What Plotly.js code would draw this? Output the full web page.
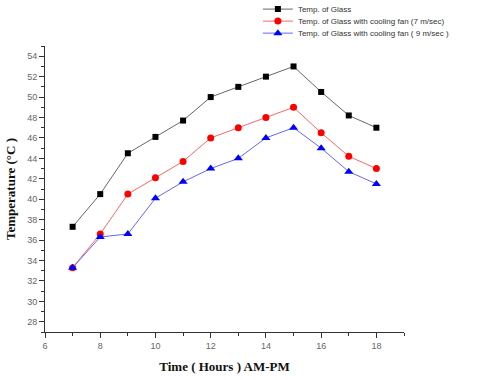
<!DOCTYPE html>
<html>
<head>
<meta charset="utf-8">
<script src="https://cdn.plot.ly/plotly-3.0.1.min.js"></script>
<style>
  html, body { margin: 0; padding: 0; background: #fff; }
  #chart { width: 480px; height: 380px; }
</style>
</head>
<body>
<div id="chart"></div>
<script>
const hours = [7, 8, 9, 10, 11, 12, 13, 14, 15, 16, 17, 18];
const tempGlass = [37.3, 40.5, 44.5, 46.1, 47.7, 50.0, 51.0, 52.0, 53.0, 50.5, 48.2, 47.0];
const tempFan7 = [33.3, 36.6, 40.5, 42.1, 43.7, 46.0, 47.0, 48.0, 49.0, 46.5, 44.2, 43.0];
const tempFan9 = [33.3, 36.3, 36.6, 40.1, 41.7, 43.0, 44.0, 46.0, 47.0, 45.0, 42.7, 41.5];
const seriesNames = ['Temp. of Glass', 'Temp. of Glass with cooling fan (7 m/sec)', 'Temp. of Glass with cooling fan ( 9 m/sec )'];

const data = [
    { x: hours, y: tempGlass, name: seriesNames[0], mode: 'lines+markers', legend: 'legend',
      line: { color: '#666666', width: 1 },
      marker: { symbol: 'square', size: 6, color: '#000000' } },
    { x: hours, y: tempFan7, name: seriesNames[1], mode: 'lines+markers', legend: 'legend2',
      line: { color: '#ff6666', width: 1 },
      marker: { symbol: 'circle', size: 7, color: '#ff0000' } },
    { x: hours, y: tempFan9, name: seriesNames[2], mode: 'lines+markers', legend: 'legend3',
      line: { color: '#6666ff', width: 1 },
      marker: { symbol: 'triangle-up', size: 8, color: '#0000ff' } }
];

const axisBase = {
    showgrid: false,
    zeroline: false,
    showline: true,
    linecolor: '#333',
    linewidth: 1,
    ticks: 'outside',
    ticklen: 5,
    tickcolor: '#333',
    tickfont: { family: 'Arial, Liberation Sans', size: 9, color: '#666' }
};

// one legend per series so rows can sit closer than plotly's default spacing
function legendAt(y) {
    return {
        x: 0.593, y: y, xanchor: 'left', yanchor: 'middle',
        font: { family: 'Arial, Liberation Sans', size: 8, color: '#333' },
        bgcolor: 'rgba(0,0,0,0)', borderwidth: 0
    };
}

const layout = {
    width: 480,
    height: 380,
    margin: { l: 45, r: 76, t: 46, b: 48, autoexpand: false },
    paper_bgcolor: '#fff',
    plot_bgcolor: '#fff',
    showlegend: true,
    legend: legendAt(1.129),
    legend2: legendAt(1.087),
    legend3: legendAt(1.045),
    xaxis: Object.assign({}, axisBase, {
        range: [6, 19],
        tick0: 6, dtick: 2,
        minor: { dtick: 1, ticks: 'outside', ticklen: 3, tickcolor: '#333' },
        title: { text: 'Time ( Hours ) AM-PM', standoff: 12,
                 font: { family: 'Times New Roman, Liberation Serif', size: 13, color: '#111', weight: 'bold' } }
    }),
    yaxis: Object.assign({}, axisBase, {
        range: [27, 55],
        tick0: 28, dtick: 2,
        minor: { dtick: 1, ticks: 'outside', ticklen: 3, tickcolor: '#333' },
        title: { text: 'Temperature (°C )', standoff: 8,
                 font: { family: 'Times New Roman, Liberation Serif', size: 13, color: '#111', weight: 'bold' } }
    })
};

Plotly.newPlot('chart', data, layout, { displayModeBar: false, staticPlot: true });
</script>
</body>
</html>
